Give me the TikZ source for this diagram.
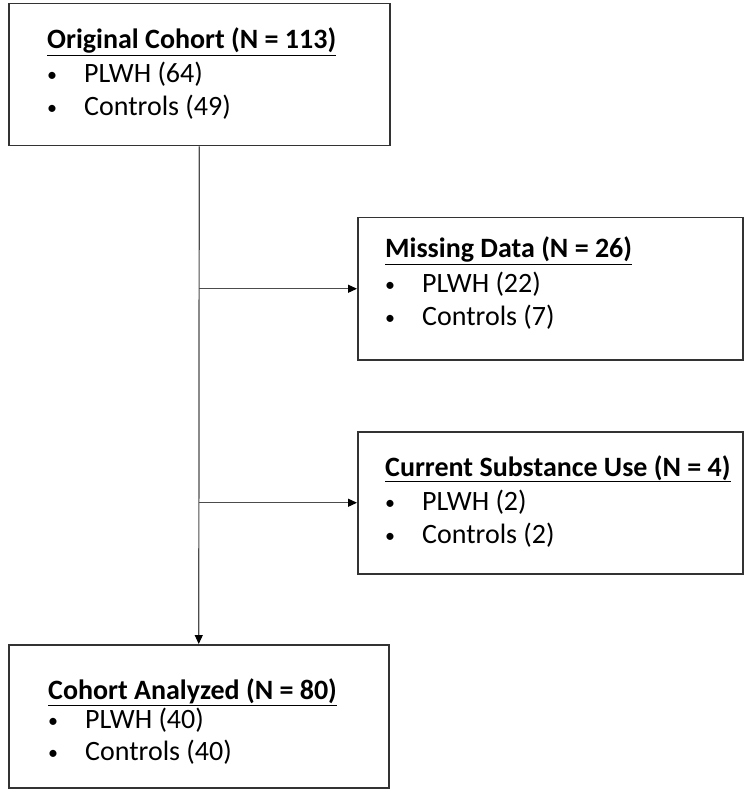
\documentclass[tikz,border=0pt]{standalone}
\usepackage{fontspec}
\setmainfont{Carlito}
\usepackage{tikz}
\usetikzlibrary{arrows.meta}
\usetikzlibrary{positioning}

\newcommand{\bul}{\makebox[37pt][l]{\raisebox{1pt}{\fontsize{20}{20}\selectfont\textbullet}}}

\tikzset{
  cbox/.style={draw=black!80, line width=1.5pt, minimum width=381pt, minimum height=142pt, anchor=north west, inner sep=0pt},
  ctext/.style={anchor=base west, inner sep=0pt, font=\fontsize{28}{32}\selectfont},
  flow/.style={draw=black!70, line width=1.2pt, -{Triangle[length=9pt,width=8pt,color=black]}}
}

\begin{document}
\begin{tikzpicture}[x=1pt,y=-1pt]
    \useasboundingbox (0,0) rectangle (750,791);

    % boxes
    \node[cbox] (orig) at (8,3) {};
    \node[cbox, minimum width=385pt] (miss) at (357,217) {};
    \node[cbox, minimum width=385pt] (subs) at (357,431) {};
    \node[cbox, minimum width=380pt, minimum height=143pt] (anal) at (8,644) {};

    % texts
    \node[ctext] (origT) at (47,49) {\underline{\textbf{Original Cohort (N = 113)}}};
    \node[ctext] (origA) at (47,83) {\bul PLWH (64)};
    \node[ctext] (origB) at (47,116) {\bul Controls (49)};

    \node[ctext] (missT) at (385,258) {\underline{\textbf{Missing Data (N = 26)}}};
    \node[ctext] (missA) at (385,292) {\bul PLWH (22)};
    \node[ctext] (missB) at (385,325) {\bul Controls (7)};

    \node[ctext] (subsT) at (385,476) {\underline{\textbf{Current Substance Use (N = 4)}}};
    \node[ctext] (subsA) at (385,510) {\bul PLWH (2)};
    \node[ctext] (subsB) at (385,543) {\bul Controls (2)};

    \node[ctext] (analT) at (48,699) {\underline{\textbf{Cohort Analyzed (N = 80)}}};
    \node[ctext] (analA) at (48,728) {\bul PLWH (40)};
    \node[ctext] (analB) at (48,760) {\bul Controls (40)};

    % arrows
    \coordinate (m1) at (orig.south |- miss.west);
    \coordinate (m2) at (orig.south |- subs.west);
    \draw[flow] (orig.south) -- (anal.north);
    \draw[flow] (m1) -- (miss.west);
    \draw[flow] (m2) -- (subs.west);
\end{tikzpicture}
\end{document}
